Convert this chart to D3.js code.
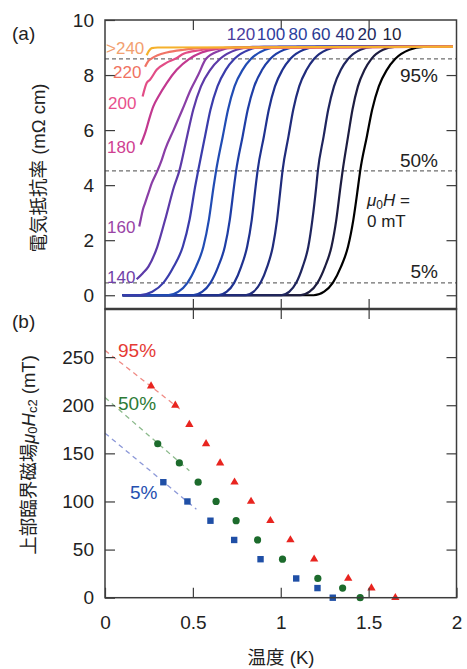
<!DOCTYPE html>
<html>
<head>
<meta charset="utf-8">
<script src="https://cdn.jsdelivr.net/npm/d3@7"></script>
<style>
  html, body { margin: 0; padding: 0; background: #fff; }
  svg { display: block; }
  text { font-family: "Liberation Sans", Arial, "Noto Sans CJK JP", sans-serif; }
  .cjk { font-family: "Liberation Sans", "Noto Sans CJK JP", sans-serif; }
</style>
</head>
<body>
<svg id="chart" width="467" height="669"></svg>
<script>
// ---------------- DATA ----------------
// Panel (a): resistivity curves (mOhm cm) vs temperature (K), labelled by field (mT)
const fieldsA = [0, 10, 20, 40, 60, 80, 100, 120, 140, 160, 180, 200, 220, 240];
// resistivity levels shared by the low-field curves (0-120 mT)
const rhoLevels = [0, 0, 0.13, 0.45, 1.04, 1.77, 2.74, 3.95, 4.52, 5.77, 6.74, 7.59, 8.19, 8.59, 8.92, 9.02, 9.03];
// temperature at which each low-field curve reaches those levels
const tCurve0   = [0.10, 1.187, 1.247, 1.296, 1.343, 1.383, 1.413, 1.440, 1.452, 1.490, 1.520, 1.558, 1.604, 1.652, 1.732, 1.812, 1.98];
const tCurve10  = [0.10, 1.109, 1.164, 1.209, 1.252, 1.289, 1.316, 1.340, 1.352, 1.383, 1.408, 1.439, 1.477, 1.516, 1.582, 1.647, 1.98];
const tCurve20  = [0.10, 1.002, 1.049, 1.088, 1.125, 1.157, 1.180, 1.202, 1.211, 1.244, 1.270, 1.303, 1.342, 1.384, 1.453, 1.522, 1.98];
const tCurve40  = [0.10, 0.798, 0.846, 0.885, 0.923, 0.955, 0.979, 1.000, 1.010, 1.044, 1.071, 1.105, 1.147, 1.190, 1.262, 1.334, 1.98];
const tCurve60  = [0.10, 0.642, 0.693, 0.735, 0.775, 0.809, 0.835, 0.857, 0.868, 0.904, 0.932, 0.967, 1.010, 1.055, 1.130, 1.205, 1.98];
const tCurve80  = [0.10, 0.498, 0.554, 0.600, 0.644, 0.682, 0.710, 0.734, 0.746, 0.783, 0.812, 0.849, 0.894, 0.941, 1.019, 1.097, 1.98];
const tCurve100 = [0.10, 0.355, 0.418, 0.469, 0.518, 0.560, 0.591, 0.618, 0.632, 0.670, 0.700, 0.737, 0.783, 0.831, 0.911, 0.990, 1.98];
const tCurve120 = [0.10, 0.193, 0.269, 0.332, 0.391, 0.443, 0.481, 0.513, 0.530, 0.569, 0.600, 0.640, 0.687, 0.737, 0.820, 0.903, 1.98];
// high-field curves: [T, rho]
const curve140 = [[0.18,0.58],[0.215,0.80],[0.247,1.04],[0.298,1.77],[0.342,2.74],[0.393,3.95],[0.423,4.52],[0.467,5.77],[0.502,6.74],[0.546,7.59],[0.599,8.19],[0.655,8.59],[0.748,8.92],[0.84,9.02],[1.98,9.03]];
const curve160 = [[0.195,2.5],[0.203,2.74],[0.215,3.1],[0.228,3.35],[0.247,3.71],[0.266,4.07],[0.298,4.52],[0.323,4.92],[0.342,5.29],[0.39,6.0],[0.44,6.74],[0.49,7.5],[0.53,8.0],[0.575,8.59],[0.65,8.88],[0.74,9.0],[1.98,9.03]];
const curve180 = [[0.203,5.47],[0.228,5.89],[0.256,6.5],[0.275,6.86],[0.304,7.22],[0.351,7.71],[0.408,8.19],[0.48,8.59],[0.55,8.82],[0.64,8.95],[0.72,9.0],[1.98,9.03]];
const curve200 = [[0.214,7.22],[0.237,7.71],[0.256,7.83],[0.294,8.19],[0.351,8.45],[0.40,8.59],[0.45,8.78],[0.54,8.9],[0.62,8.98],[1.98,9.03]];
const curve220 = [[0.228,8.30],[0.245,8.5],[0.262,8.59],[0.30,8.72],[0.351,8.82],[0.45,8.92],[0.55,8.98],[1.98,9.03]];
const curve240 = [[0.237,8.72],[0.25,8.88],[0.266,8.98],[0.30,9.0],[1.98,9.03]];
// criterion levels (95%, 50%, 5% of normal-state resistivity)
const criteriaLevels = [8.59, 4.52, 0.45];
const criteriaLabels = ["95%", "50%", "5%"];
const yTicksA = [0, 2, 4, 6, 8, 10];

// Panel (b): upper critical field (mT) vs temperature (K)
const fieldsB = [0, 10, 20, 40, 60, 80, 100, 120, 140, 160, 180, 200, 220];
const t95 = [1.652, 1.516, 1.384, 1.190, 1.055, 0.941, 0.831, 0.737, 0.655, 0.575, 0.480, 0.400, 0.262];
const t50 = [1.452, 1.352, 1.211, 1.010, 0.868, 0.746, 0.632, 0.530, 0.423, 0.300, null, null, null];
const t5  = [1.296, 1.209, 1.088, 0.885, 0.735, 0.600, 0.469, 0.332, null, null, null, null, null];
const fit95 = [[0, 257], [0.44, 194]];
const fit50 = [[0, 208], [0.48, 132]];
const fit5  = [[0, 171], [0.52, 92]];
const yTicksB = [0, 50, 100, 150, 200, 250];
const xTicks = [0, 0.5, 1, 1.5, 2];

// ---------------- STYLE ----------------
const curveColors = ["#000000", "#1d1d40", "#1f255e", "#202c7c", "#1f3290", "#1f3ea6", "#214cb4", "#3a3cab",
                     "#5c3aa8", "#8a3ea6", "#c2388f", "#e24d86", "#f07466", "#f5b12c"];
const frameColor = "#3c3c3c";

// ---------------- LAYOUT ----------------
const L = 105, R = 456.5, topA = 20, mid = 309, botB = 597.7;
const svg = d3.select("#chart");
svg.append("rect").attr("width", 467).attr("height", 669).attr("fill", "#fff");

const x = d3.scaleLinear().domain([0, 2]).range([L, R]);
const yA = d3.scaleLinear().domain([-0.5, 10]).range([mid, topA]);
const yB = d3.scaleLinear().domain([0, 300]).range([botB, mid]);

// ---------- Panel (a) ----------
const gA = svg.append("g");
gA.selectAll("line.crit").data(criteriaLevels).join("line")
  .attr("x1", L).attr("x2", R)
  .attr("y1", d => yA(d)).attr("y2", d => yA(d))
  .attr("stroke", "#6e6e6e").attr("stroke-width", 1.2).attr("stroke-dasharray", "4,3");

const lowT = [tCurve0, tCurve10, tCurve20, tCurve40, tCurve60, tCurve80, tCurve100, tCurve120];
const curves = lowT.map(ts => ts.map((t, i) => [t, rhoLevels[i]]))
  .concat([curve140, curve160, curve180, curve200, curve220, curve240]);

const lineA = d3.line().x(d => x(d[0])).y(d => yA(d[1])).curve(d3.curveMonotoneX);
gA.selectAll("path.curve").data(curves).join("path")
  .attr("d", lineA)
  .attr("fill", "none")
  .attr("stroke", (d, i) => curveColors[i])
  .attr("stroke-width", 2.2)
  .attr("stroke-linejoin", "round");

// ---------- Panel (b) ----------
const gB = svg.append("g");
const lineB = d3.line().x(d => x(d[0])).y(d => yB(d[1]));
[[fit95, "#f08a84"], [fit50, "#8cba8c"], [fit5, "#8c98d8"]].forEach(([f, c]) => {
  gB.append("path").attr("d", lineB(f)).attr("fill", "none")
    .attr("stroke", c).attr("stroke-width", 1.3).attr("stroke-dasharray", "5,4");
});
const ptsB = (ts) => fieldsB.map((h, i) => [ts[i], h]).filter(d => d[0] !== null);
gB.selectAll("path.tri").data(ptsB(t95)).join("path")
  .attr("d", d3.symbol(d3.symbolTriangle, 30))
  .attr("transform", d => `translate(${x(d[0])},${yB(d[1])})`)
  .attr("fill", "#e8241f");
gB.selectAll("circle.c50").data(ptsB(t50)).join("circle")
  .attr("cx", d => x(d[0])).attr("cy", d => yB(d[1])).attr("r", 3.6)
  .attr("fill", "#1c6b2c");
gB.selectAll("rect.s5").data(ptsB(t5)).join("rect")
  .attr("x", d => x(d[0]) - 3.2).attr("y", d => yB(d[1]) - 3.2)
  .attr("width", 6.4).attr("height", 6.4)
  .attr("fill", "#1f4fa6");

// ---------- Frames ----------
svg.append("rect").attr("x", L).attr("y", topA).attr("width", R - L).attr("height", mid - topA)
  .attr("fill", "none").attr("stroke", frameColor).attr("stroke-width", 1.5);
svg.append("rect").attr("x", L).attr("y", mid).attr("width", R - L).attr("height", botB - mid)
  .attr("fill", "none").attr("stroke", frameColor).attr("stroke-width", 1.5);
svg.append("line").attr("x1", L).attr("x2", R).attr("y1", mid).attr("y2", mid)
  .attr("stroke", frameColor).attr("stroke-width", 2.6);

// ---------- Axes ----------
function styleAxis(g, showText) {
  g.select(".domain").remove();
  g.selectAll(".tick line").attr("stroke", frameColor).attr("stroke-width", 1.2);
  g.selectAll(".tick text").attr("fill", "#222").style("font-size", "19px")
    .style("font-family", '"Liberation Sans", Arial, sans-serif');
  if (!showText) g.selectAll(".tick text").remove();
}
const fmt = d => String(d);
// panel a
styleAxis(svg.append("g").attr("transform", `translate(${L},0)`)
  .call(d3.axisLeft(yA).tickValues(yTicksA).tickSize(-10).tickPadding(11).tickFormat(fmt)), true);
styleAxis(svg.append("g").attr("transform", `translate(${R},0)`)
  .call(d3.axisRight(yA).tickValues(yTicksA.slice(0, 5)).tickSize(-10)), false);
styleAxis(svg.append("g").attr("transform", `translate(0,${topA})`)
  .call(d3.axisTop(x).tickValues([0.5, 1, 1.5]).tickSize(-10)), false);
styleAxis(svg.append("g").attr("transform", `translate(0,${mid})`)
  .call(d3.axisBottom(x).tickValues([0.5, 1, 1.5]).tickSize(-10)), false);
// panel b
styleAxis(svg.append("g").attr("transform", `translate(${L},0)`)
  .call(d3.axisLeft(yB).tickValues(yTicksB).tickSize(-10).tickPadding(11).tickFormat(fmt)), true);
styleAxis(svg.append("g").attr("transform", `translate(${R},0)`)
  .call(d3.axisRight(yB).tickValues(yTicksB.slice(1)).tickSize(-10)), false);
styleAxis(svg.append("g").attr("transform", `translate(0,${mid})`)
  .call(d3.axisTop(x).tickValues([0.5, 1, 1.5]).tickSize(-10)), false);
styleAxis(svg.append("g").attr("transform", `translate(0,${botB})`)
  .call(d3.axisBottom(x).tickValues(xTicks).tickSize(-10).tickPadding(18).tickFormat(fmt)), true);

// ---------- Text annotations ----------
const txt = (xp, yp, s, opts = {}) => svg.append("text")
  .attr("x", xp).attr("y", yp).text(s)
  .attr("fill", opts.fill || "#222")
  .attr("text-anchor", opts.anchor || "start")
  .style("font-size", (opts.size || 19) + "px");

txt(12, 40, "(a)");
txt(12, 328, "(b)");

// criteria labels panel a
const critPos = [[438, 82], [438, 167], [438, 278]];
criteriaLabels.forEach((s, i) => txt(critPos[i][0], critPos[i][1], s, { anchor: "end" }));

// μ0H = 0 mT
const mu = svg.append("text").attr("x", 367).attr("y", 206).attr("fill", "#222").style("font-size", "17px");
mu.append("tspan").attr("font-style", "italic").text("μ");
mu.append("tspan").attr("dy", 3).style("font-size", "12px").text("0");
mu.append("tspan").attr("dy", -3).attr("font-style", "italic").text("H");
mu.append("tspan").text(" =");
txt(367, 227, "0 mT", { size: 17 });

// field labels (top row)
const topLabels = ["120", "100", "80", "60", "40", "20", "10"];
const topX = [241, 271, 298, 321, 345, 367, 392];
const topCol = ["#4a3c9e", "#2e3c9e", "#2c42a0", "#2a3a92", "#28307a", "#22285c", "#1f1f3a"];
topLabels.forEach((s, i) => txt(topX[i], 40, s, { anchor: "middle", size: 17, fill: topCol[i] }));

// field labels (left column)
const leftLabels = [">240", "220", "200", "180", "160", "140"];
const leftPos = [[106, 54], [113, 78], [108, 109], [107, 153], [107, 233], [107, 283]];
const leftCol = ["#f2a070", "#f07262", "#e8508c", "#cf3f92", "#9a44a6", "#7040a8"];
leftLabels.forEach((s, i) => txt(leftPos[i][0], leftPos[i][1], s, { size: 17, fill: leftCol[i] }));

// panel b labels
txt(118, 357, "95%", { fill: "#e53a35" });
txt(118, 410, "50%", { fill: "#2d7a35" });
txt(130, 499, "5%", { fill: "#2650b0" });

// axis titles
svg.append("text").attr("class", "cjk")
  .attr("transform", "translate(38,168) rotate(-90)")
  .attr("text-anchor", "middle").attr("dominant-baseline", "central")
  .attr("fill", "#222").style("font-size", "18.5px")
  .text("電気抵抗率 (mΩ cm)");

const yb = svg.append("text").attr("class", "cjk")
  .attr("transform", "translate(28,455) rotate(-90)")
  .attr("text-anchor", "middle").attr("dominant-baseline", "central")
  .attr("fill", "#222").style("font-size", "18.5px");
yb.append("tspan").text("上部臨界磁場");
yb.append("tspan").attr("font-style", "italic").text("μ");
yb.append("tspan").attr("dy", 4).style("font-size", "13px").text("0");
yb.append("tspan").attr("dy", -4).attr("font-style", "italic").text("H");
yb.append("tspan").attr("dy", 4).style("font-size", "13px").text("c2");
yb.append("tspan").attr("dy", -4).text(" (mT)");

svg.append("text").attr("class", "cjk")
  .attr("x", 281).attr("y", 664).attr("text-anchor", "middle")
  .attr("fill", "#222").style("font-size", "18.5px")
  .text("温度 (K)");
</script>
</body>
</html>
